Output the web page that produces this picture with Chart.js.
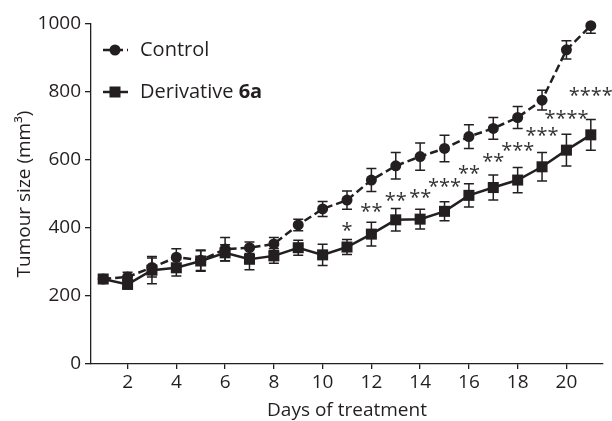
<!DOCTYPE html>
<html><head><meta charset="utf-8">
<script src="https://cdn.jsdelivr.net/npm/chart.js@4"></script>
<style>html,body{margin:0;padding:0;background:#fff}#wrap{width:612px;height:421px}</style>
</head><body><div id="wrap"><canvas id="c" width="612" height="421"></canvas></div>
<script>
// ---- data ----
const days = [1,2,3,4,5,6,7,8,9,10,11,12,13,14,15,16,17,18,19,20,21];
const control    = [250,256,284,314,305,338,342,353,409,456,482,541,583,610,634,669,693,725,776,924,995];
const controlErr = [5,14,28,25,30,34,17,19,17,22,27,34,39,40,39,35,32,32,29,27,22];
const deriv      = [250,234,276,283,303,327,308,318,342,321,344,382,424,426,449,496,519,541,580,629,674];
const derivErr   = [5,12,40,24,30,24,31,22,22,31,22,35,33,29,28,34,37,37,42,47,45];
// significance marks (day, label, level in mm3 where the stars sit)
const sigDays   = [11,12,13,14,15,16,17,18,19,20,21];
const sigLabels = ['*','**','**','**','***','**','**','***','***','****','****'];
const sigLevels = [401,455,487,497,528,569,602,634,679,729,796];
const xTicks = [2,4,6,8,10,12,14,16,18,20];
const yTicks = [0,200,400,600,800,1000];
const seriesNames = ['Control','Derivative '];
const seriesBold  = ['','6a'];

const INK = '#231f20';
const FONT = "'Open Sans', sans-serif";

const errorBars = {
  id:'errorBars',
  beforeDatasetsDraw(chart){
    const {ctx, chartArea:a, scales:{x,y}} = chart;
    ctx.save(); ctx.strokeStyle = INK; ctx.lineWidth = 1.5;
    ctx.beginPath(); ctx.rect(a.left-10, a.top, a.right-a.left+20, a.bottom-a.top); ctx.clip();
    [[control,controlErr],[deriv,derivErr]].forEach(([v,e])=>{
      days.forEach((d,i)=>{
        const px = x.getPixelForValue(d);
        const t = y.getPixelForValue(v[i]+e[i]), b = y.getPixelForValue(v[i]-e[i]);
        ctx.beginPath();
        ctx.moveTo(px,t); ctx.lineTo(px,b);
        ctx.moveTo(px-5,t); ctx.lineTo(px+5,t);
        ctx.moveTo(px-5,b); ctx.lineTo(px+5,b);
        ctx.stroke();
      });
    });
    ctx.restore();
  }
};

const extras = {
  id:'extras',
  afterDatasetsDraw(chart){
    const {ctx, scales:{x,y}} = chart;
    ctx.save();
    // stars
    ctx.fillStyle = '#333';
    ctx.font = "20px " + FONT;
    ctx.textAlign = 'center';
    ctx.textBaseline = 'alphabetic';
    sigDays.forEach((d,i)=>{
      ctx.fillText(sigLabels[i], x.getPixelForValue(d), y.getPixelForValue(sigLevels[i]) + 9);
    });
    // legend
    const rows = [
      {y:50, dash:[8,4], style:'circle'},
      {y:92, dash:[], style:'rect'}
    ];
    rows.forEach((r,i)=>{
      ctx.strokeStyle = INK; ctx.lineWidth = 2.5; ctx.setLineDash(r.dash);
      ctx.beginPath(); ctx.moveTo(103,r.y); ctx.lineTo(128,r.y); ctx.stroke();
      ctx.setLineDash([]);
      ctx.fillStyle = INK;
      if (r.style==='circle'){ ctx.beginPath(); ctx.arc(115,r.y,5.5,0,Math.PI*2); ctx.fill(); }
      else { ctx.fillRect(115-5.5,r.y-5.5,11,11); }
      ctx.textAlign='left'; ctx.textBaseline='middle';
      ctx.font = "20px " + FONT;
      ctx.fillText(seriesNames[i],140,r.y);
      if (seriesBold[i]){
        const w = ctx.measureText(seriesNames[i]).width;
        ctx.font = "bold 20px " + FONT;
        ctx.fillText(seriesBold[i],140+w,r.y);
      }
    });
    ctx.restore();
  }
};

new Chart(document.getElementById('c'), {
  type:'line',
  data:{
    datasets:[
      {label:'Derivative 6a', data:days.map((d,i)=>({x:d,y:deriv[i]})),
       borderColor:INK, backgroundColor:INK, borderWidth:2.5, pointStyle:'rect',
       pointRadius:7.8, pointBorderWidth:0, tension:0, order:1, clip:10},
      {label:'Control', data:days.map((d,i)=>({x:d,y:control[i]})),
       borderColor:INK, backgroundColor:INK, borderWidth:2.5, borderDash:[8,4], pointStyle:'circle',
       pointRadius:5.5, pointBorderWidth:0, tension:0, order:2, clip:10}
    ]
  },
  options:{
    responsive:false, animation:false, devicePixelRatio:1,
    layout:{padding:{top:24,right:9,left:0,bottom:0}},
    plugins:{legend:{display:false}, tooltip:{enabled:false}},
    scales:{
      x:{type:'linear', min:0.5, max:21.5,
        afterBuildTicks(s){ s.ticks = xTicks.map(v=>({value:v})); },
        afterFit(s){ s.height = 57; },
        grid:{display:true, drawOnChartArea:false, drawTicks:true, tickLength:5, color:INK, lineWidth:1.3},
        border:{display:true, color:INK, width:1.3},
        ticks:{font:{family:FONT,size:19}, color:INK, padding:2, maxRotation:0, autoSkip:false, callback:v=>String(v)},
        title:{display:true, text:'Days of treatment', font:{family:FONT,size:19,lineHeight:1}, color:INK, padding:{top:0,bottom:1}}
      },
      y:{min:0, max:1000,
        afterBuildTicks(s){ s.ticks = yTicks.map(v=>({value:v})); },
        afterFit(s){ s.width = 91; },
        grid:{display:true, drawOnChartArea:false, drawTicks:true, tickLength:6, color:INK, lineWidth:1.3},
        border:{display:true, color:INK, width:1.3},
        ticks:{font:{family:FONT,size:19}, color:INK, padding:4, callback:v=>String(v)},
        title:{display:true, text:'Tumour size (mm³)', font:{family:FONT,size:19,lineHeight:1.2}, color:INK, padding:{top:13,bottom:0}}
      }
    }
  },
  plugins:[errorBars, extras]
});
</script></body></html>
